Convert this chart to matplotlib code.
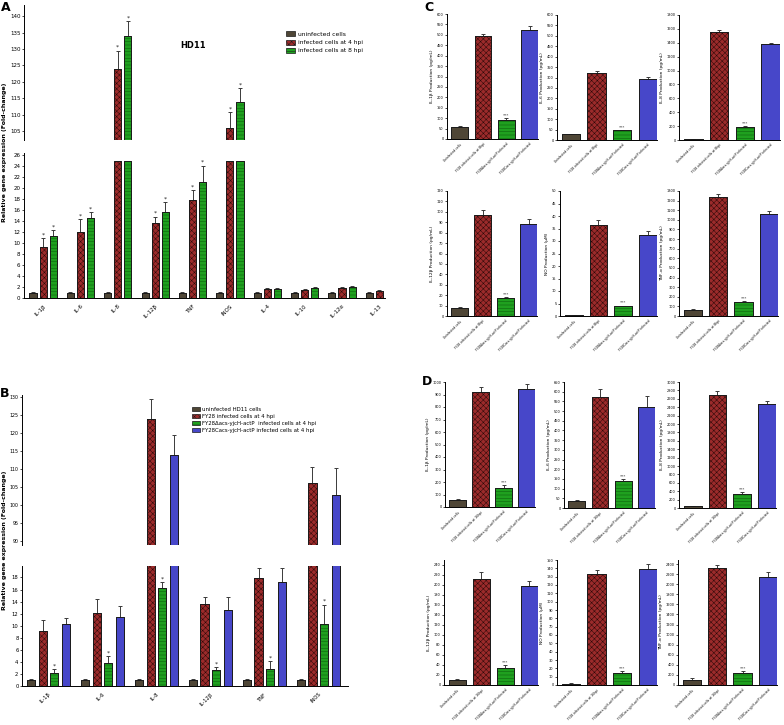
import numpy as np
import matplotlib.pyplot as plt
from matplotlib.patches import Patch

W, H = 784, 725

# ---- panel A / B : relative gene expression ----
genes_a = ['IL-1β', 'IL-6', 'IL-8', 'IL-12β', 'TNF', 'iNOS', 'IL-4', 'IL-10', 'IL-12α', 'IL-13']
a_uninf = [1.0, 1.0, 1.0, 1.0, 1.0, 1.0, 1.0, 1.0, 1.0, 1.0]
a_uninf_err = [0.1, 0.1, 0.1, 0.1, 0.1, 0.1, 0.1, 0.1, 0.1, 0.1]
a_4h = [9.2, 12.1, 123.8, 13.6, 17.9, 106.0, 1.6, 1.4, 1.8, 1.2]
a_4h_err = [1.7, 2.3, 5.7, 1.2, 1.7, 4.7, 0.15, 0.15, 0.15, 0.3]
a_8h = [11.2, 14.5, 134.0, 15.7, 21.2, 114.0, 1.7, 1.8, 2.0, np.nan]
a_8h_err = [1.1, 1.1, 4.5, 1.7, 2.9, 4.0, 0.15, 0.2, 0.15, np.nan]
a_sig = [1, 1, 1, 1, 1, 1, 0, 0, 0, 0]

genes_b = ['IL-1β', 'IL-6', 'IL-8', 'IL-12β', 'TNF', 'iNOS']
b_uninf = [1.0, 1.0, 1.0, 1.0, 1.0, 1.0]
b_uninf_err = [0.1, 0.1, 0.1, 0.1, 0.1, 0.1]
b_wt = [9.2, 12.1, 123.8, 13.6, 17.9, 106.0]
b_wt_err = [1.7, 2.3, 5.7, 1.2, 1.7, 4.7]
b_del = [2.1, 3.8, 16.3, 2.6, 2.9, 10.3]
b_del_err = [0.7, 1.1, 0.9, 0.5, 1.2, 3.2]
b_comp = [10.2, 11.4, 113.8, 12.6, 17.2, 102.8]
b_comp_err = [1.0, 1.8, 5.7, 2.1, 2.4, 7.5]

# ---- panels C / D : cytokine production ----
c_xlabels = ['Uninfected cells', 'FY28 infected cells at 8hpi',
             'FY28Δacs-yjcH-actP infected', 'FY28Cacs-yjcH-actP infected']
d_xlabels = ['Uninfected cells', 'FY28 infected cells at 16hpi',
             'FY28Δacs-yjcH-actP infected', 'FY28Cacs-yjcH-actP infected']
prod_labels = ['IL-1β Production (pg/mL)', 'IL-6 Production (pg/mL)', 'IL-8 Production (pg/mL)',
               'IL-12β Production (pg/mL)', 'NO Production (μM)', 'TNF-α Production (pg/mL)']

c_vals = [[58, 495, 92, 522], [27, 320, 46, 294], [14, 1560, 187, 1380],
          [7.4, 96.8, 17, 88.8], [0.4, 36.5, 3.9, 32.5], [66, 1236, 145, 1062]]
c_errs = [[5, 10, 7, 22], [3, 12, 4, 7], [3, 25, 8, 18],
          [0.8, 4.5, 1.5, 4.8], [0.1, 2.0, 0.3, 1.7], [5, 30, 12, 35]]
c_ylim = [600, 600, 1800, 120, 50, 1300]
c_step = [50, 50, 200, 10, 5, 100]

d_vals = [[58, 922, 150, 944], [35, 574, 137, 521], [40, 2700, 340, 2470],
          [10.6, 212.6, 33.8, 198], [1.6, 133.6, 14, 138.8], [99, 2320, 245, 2149]]
d_errs = [[5, 35, 25, 38], [4, 38, 12, 55], [8, 90, 30, 80],
          [2, 13, 7, 11], [0.3, 5, 3, 6], [30, 60, 40, 95]]
d_ylim = [1000, 650, 3000, 250, 150, 2480]
d_step = [100, 50, 200, 20, 10, 200]

STYLE = {
    'gray': dict(color='#4f4636', hatch=None, hcolor=None),
    'red': dict(color='#9b2b2b', hatch='xxxxxx', hcolor='#2a0808'),
    'green': dict(color='#1fa01f', hatch='-----', hcolor='#0b5a0b'),
    'blue': dict(color='#4747c9', hatch=None, hcolor=None),
}

plt.rcParams['hatch.linewidth'] = 0.35
plt.rcParams['font.family'] = ['DejaVu Sans']


def rect(l, t, r, b):
    return [l / W, 1 - b / H, (r - l) / W, (b - t) / H]


def bars(ax, x, h, err, key, width, lw=0.6):
    st = STYLE[key]
    x = np.asarray(x, float)
    h = np.asarray(h, float)
    err = np.asarray(err, float)
    ok = ~np.isnan(h)
    ax.bar(x[ok], h[ok], width, color=st['color'], edgecolor='#1a1a1a', linewidth=lw, zorder=2)
    if st['hatch']:
        ax.bar(x[ok], h[ok], width, fill=False, edgecolor=st['hcolor'], linewidth=0,
               hatch=st['hatch'], zorder=3)
    ax.bar(x[ok], h[ok], width, fill=False, edgecolor='#1a1a1a', linewidth=lw, zorder=4)
    e_ok = ok & ~np.isnan(err)
    ax.errorbar(x[e_ok], h[e_ok], yerr=[np.zeros(e_ok.sum()), err[e_ok]], fmt='none',
                ecolor='#3a3a3a', elinewidth=0.7, capsize=1.6, capthick=0.7, zorder=1)


def stars(ax, x, top, mask, text, fs):
    for xi, ti, m in zip(x, top, mask):
        if m and not np.isnan(ti):
            ax.annotate(text, (xi, ti), xytext=(0, 0.5), textcoords='offset points',
                        ha='center', va='bottom', fontsize=fs, color='#222222')


def style(ax, fs, bottom=True):
    for s in ['top', 'right']:
        ax.spines[s].set_visible(False)
    ax.spines['left'].set_linewidth(0.7)
    ax.spines['bottom'].set_linewidth(0.7)
    ax.spines['bottom'].set_visible(bottom)
    ax.tick_params(axis='y', labelsize=fs, length=1.5, width=0.5, pad=1)
    ax.tick_params(axis='x', labelsize=fs, length=0, pad=1.5)


fig = plt.figure(figsize=(W / 100, H / 100), dpi=100)

# ================= Panel A =================
xa = np.arange(len(genes_a))
step_a, wa = 0.27, 0.19
A_CLIP = 25
a_series = [(a_uninf, a_uninf_err, 'gray'), (a_4h, a_4h_err, 'red'), (a_8h, a_8h_err, 'green')]

ax_au = fig.add_axes(rect(24, 5, 385, 140))
ax_al = fig.add_axes(rect(24, 153, 385, 298))
for i, (v, e, k) in enumerate(a_series):
    v = np.asarray(v, float)
    e = np.asarray(e, float)
    xs = xa + (i - 1) * step_a
    bars(ax_au, xs, v, e, k, wa)
    bars(ax_al, xs, np.minimum(v, A_CLIP), np.where(v > A_CLIP, np.nan, e), k, wa)
    if k != 'gray':
        stars(ax_au, xs, v + e, a_sig, '*', 4.5)
        stars(ax_al, xs, v + e, a_sig, '*', 4.5)

ax_au.set_ylim(102.3, 143.4)
ax_au.set_yticks(np.arange(105, 141, 5))
ax_au.set_xticks([])
ax_al.set_ylim(0, 26.4)
ax_al.set_yticks(np.arange(0, 27, 2))
ax_al.set_xticks(xa)
ax_al.set_xticklabels(genes_a, rotation=45, ha='right', rotation_mode='anchor')
for ax in (ax_au, ax_al):
    ax.set_xlim(-0.51, 9.15)
style(ax_au, 4, bottom=False)
style(ax_al, 4)
ax_al.tick_params(axis='x', pad=4)

fig.text(193 / W, 1 - 46 / H, 'HD11', fontsize=6, fontweight='bold', ha='center', va='center')
fig.text(5 / W, 1 - 152 / H, 'Relative gene expression (Fold-change)', rotation=90,
         fontsize=4.5, fontweight='bold', ha='center', va='center')
handles_a = [Patch(facecolor=STYLE[k]['color'], edgecolor='#1a1a1a', linewidth=0.5,
                   hatch=STYLE[k]['hatch']) for k in ('gray', 'red', 'green')]
ax_au.legend(handles_a, ['uninfected cells', 'infected cells at 4 hpi', 'infected cells at 8 hpi'],
             loc='upper left', bbox_to_anchor=(284 / W, 1 - 29 / H), bbox_transform=fig.transFigure,
             frameon=False, fontsize=4.3, handlelength=1.4, handleheight=0.9,
             labelspacing=0.45, borderaxespad=0, handletextpad=0.5)

# ================= Panel B =================
xb = np.arange(len(genes_b))
step_b, wb = 0.216, 0.15
b_series = [(b_uninf, b_uninf_err, 'gray'), (b_wt, b_wt_err, 'red'),
            (b_del, b_del_err, 'green'), (b_comp, b_comp_err, 'blue')]
ax_bu = fig.add_axes(rect(22, 395, 348, 545))
ax_bl = fig.add_axes(rect(22, 566, 348, 686))
for i, (v, e, k) in enumerate(b_series):
    xs = xb + (i - 1.5) * step_b
    for ax in (ax_bu, ax_bl):
        bars(ax, xs, v, e, k, wb)
    if k == 'green':
        top = np.asarray(v) + np.asarray(e)
        stars(ax_bl, xs, top, [1] * len(xs), '*', 4.5)

ax_bu.set_ylim(88.9, 130.6)
ax_bu.set_yticks(np.arange(90, 131, 5))
ax_bu.set_xticks([])
ax_bl.set_ylim(0, 19.9)
ax_bl.set_yticks(np.arange(0, 19, 2))
ax_bl.set_xticks(xb)
ax_bl.set_xticklabels(genes_b, rotation=45, ha='right', rotation_mode='anchor')
for ax in (ax_bu, ax_bl):
    ax.set_xlim(-0.49, 5.55)
style(ax_bu, 3.4, bottom=False)
style(ax_bl, 3.8)
ax_bl.tick_params(axis='x', pad=4)

fig.text(5 / W, 1 - 540 / H, 'Relative gene expression (Fold-change)', rotation=90,
         fontsize=4.5, fontweight='bold', ha='center', va='center')
handles_b = [Patch(facecolor=STYLE[k]['color'], edgecolor='#1a1a1a', linewidth=0.5,
                   hatch=STYLE[k]['hatch']) for k in ('gray', 'red', 'green', 'blue')]
ax_bu.legend(handles_b, ['uninfected HD11 cells', 'FY28 infected cells at 4 hpi',
                         'FY28Δacs-yjcH-actP  infected cells at 4 hpi',
                         'FY28Cacs-yjcH-actP infected cells at 4 hpi'],
             loc='upper left', bbox_to_anchor=(190 / W, 1 - 405 / H), bbox_transform=fig.transFigure,
             frameon=False, fontsize=3.9, handlelength=1.4, handleheight=0.8,
             labelspacing=0.35, borderaxespad=0, handletextpad=0.5)

# ================= Panels C / D =================
c_rects = [(447, 14, 538, 139), (557, 15, 657, 140), (679, 15, 780, 140),
           (447, 191, 537, 316), (560, 191, 657, 316), (679, 191, 778, 316)]
d_rects = [(445, 382, 535, 507), (564, 382, 655, 508), (679, 382, 776, 508),
           (444, 560, 538, 685), (557, 560, 657, 685), (678, 560, 777, 685)]
keys = ['gray', 'red', 'green', 'blue']
x4 = np.arange(4)

for rects, vals, errs, ylims, steps, xl in [(c_rects, c_vals, c_errs, c_ylim, c_step, c_xlabels),
                                             (d_rects, d_vals, d_errs, d_ylim, d_step, d_xlabels)]:
    for j in range(6):
        ax = fig.add_axes(rect(*rects[j]))
        for i, k in enumerate(keys):
            bars(ax, [x4[i]], [vals[j][i]], [errs[j][i]], k, 0.72)
        stars(ax, [x4[2]], [vals[j][2] + errs[j][2]], [1], '***', 3)
        ax.set_ylim(0, ylims[j])
        ax.set_yticks(np.arange(0, ylims[j] + 0.001, steps[j]))
        ax.set_xlim(-0.55, 3.36)
        ax.set_xticks(x4)
        ax.set_xticklabels(xl, rotation=45, ha='right', rotation_mode='anchor')
        ax.set_ylabel(prod_labels[j], fontsize=3.2, labelpad=2)
        style(ax, 2.5)
        ax.tick_params(axis='x', labelsize=2.2, pad=2.5)

# panel letters
for txt, px, py in [('A', 1, 1), ('B', 0, 387), ('C', 424, 1), ('D', 422, 375)]:
    fig.text(px / W, 1 - py / H, txt, fontsize=9, fontweight='bold', ha='left', va='top')

fig.savefig('out.png', dpi=100)
